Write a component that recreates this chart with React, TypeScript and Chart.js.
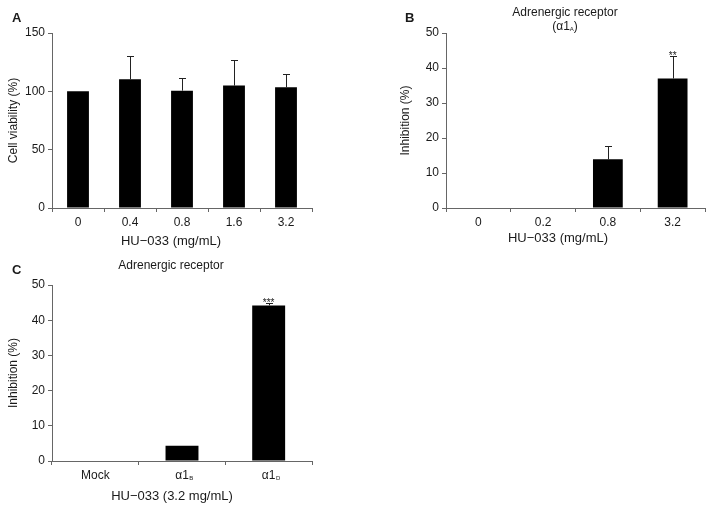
import React, { useEffect, useRef } from "react";
import { Chart, registerables } from "chart.js";
Chart.register(...registerables);

// ---------- Data ----------
const aLabels = ["0", "0.4", "0.8", "1.6", "3.2"];
const aValues = [100, 110.3, 100.6, 104.9, 103.4];
const aErrors = [0, 20.0, 10.9, 22.0, 11.2];
const aMarks = ["", "", "", "", ""];

const bLabels = ["0", "0.2", "0.8", "3.2"];
const bValues = [0, 0, 13.9, 37.0];
const bErrors = [0, 0, 3.8, 6.3];
const bMarks = ["", "", "", "**"];

const cLabels = ["Mock", "α1", "α1"];
const cSubs = ["", "B", "D"];
const cValues = [0, 4.3, 44.2];
const cErrors = [0, 0, 0.8];
const cMarks = ["", "", "***"];

const FONT = "'Liberation Sans', Arial, Helvetica, sans-serif";
const TEXT = "#1a1a1a";
const AXIS = "#666";
const TICK_SIZE = 12;

type Seg = { t: string; size: number; dy?: number };
type TextItem = { segs: Seg[]; x: number; y: number; bold?: boolean; align?: "center" | "left" };

function drawRich(ctx: CanvasRenderingContext2D, item: TextItem) {
  const w = item.segs.reduce((acc, s) => {
    ctx.font = `${item.bold ? "bold " : ""}${s.size}px ${FONT}`;
    return acc + ctx.measureText(s.t).width;
  }, 0);
  let x = item.align === "left" ? item.x : item.x - w / 2;
  ctx.textBaseline = "alphabetic";
  ctx.textAlign = "left";
  ctx.fillStyle = TEXT;
  for (const s of item.segs) {
    ctx.font = `${item.bold ? "bold " : ""}${s.size}px ${FONT}`;
    ctx.fillText(s.t, x, item.y + (s.dy || 0));
    x += ctx.measureText(s.t).width;
  }
}

function makeChart(
  canvas: HTMLCanvasElement,
  cfg: {
    labels: string[];
    values: number[];
    errors: number[];
    marks: string[];
    subs?: string[];
    yMax: number;
    yStep: number;
    yTitle: string;
    barPct: number;
    padding: { left: number; top: number; right: number; bottom: number };
    yWidth: number;
    xHeight: number;
    texts: TextItem[];
  }
) {
  const overlay = {
    id: "overlay",
    afterDatasetsDraw(chart: any) {
      const ctx = chart.ctx as CanvasRenderingContext2D;
      const meta = chart.getDatasetMeta(0);
      const ys = chart.scales.y;
      ctx.save();
      meta.data.forEach((bar: any, i: number) => {
        const err = cfg.errors[i];
        let topY = bar.y;
        if (err > 0) {
          topY = ys.getPixelForValue(cfg.values[i] + err);
          const x = Math.round(bar.x) + 0.5;
          ctx.strokeStyle = "#222";
          ctx.lineWidth = 1;
          ctx.beginPath();
          ctx.moveTo(x, bar.y);
          ctx.lineTo(x, Math.round(topY) + 0.5);
          ctx.moveTo(x - 3.5, Math.round(topY) + 0.5);
          ctx.lineTo(x + 3.5, Math.round(topY) + 0.5);
          ctx.stroke();
        }
        if (cfg.marks[i]) {
          ctx.font = `10px ${FONT}`;
          ctx.fillStyle = TEXT;
          ctx.textAlign = "center";
          ctx.textBaseline = "alphabetic";
          ctx.fillText(cfg.marks[i], bar.x, topY + 3);
        }
      });
      ctx.restore();
    },
    afterDraw(chart: any) {
      const ctx = chart.ctx as CanvasRenderingContext2D;
      ctx.save();
      if (cfg.subs) {
        const xs = chart.scales.x;
        const labelTop = xs.top + 4 + 3;
        cfg.subs.forEach((s, i) => {
          if (!s) return;
          ctx.font = `${TICK_SIZE}px ${FONT}`;
          const w = ctx.measureText(cfg.labels[i]).width;
          const x = xs.getPixelForTick(i) + w / 2 + 0.5;
          ctx.font = `6px ${FONT}`;
          ctx.fillStyle = TEXT;
          ctx.textAlign = "left";
          ctx.textBaseline = "alphabetic";
          ctx.fillText(s, x, labelTop + 12);
        });
      }
      cfg.texts.forEach((t) => drawRich(ctx, t));
      ctx.restore();
    },
  };

  return new Chart(canvas, {
    type: "bar",
    data: {
      labels: cfg.labels,
      datasets: [
        {
          data: cfg.values,
          backgroundColor: "#000",
          borderWidth: 0,
          categoryPercentage: 1,
          barPercentage: cfg.barPct,
        },
      ],
    },
    options: {
      responsive: false,
      animation: false,
      devicePixelRatio: 1,
      layout: { padding: cfg.padding },
      plugins: { legend: { display: false }, tooltip: { enabled: false }, title: { display: false } },
      scales: {
        x: {
          afterFit: (s: any) => {
            s.height = cfg.xHeight;
          },
          grid: { display: true, drawOnChartArea: false, drawTicks: true, tickLength: 4, color: AXIS, offset: true },
          border: { display: true, color: AXIS, width: 1 },
          ticks: { color: TEXT, font: { family: FONT, size: TICK_SIZE }, padding: 3, maxRotation: 0, autoSkip: false },
        },
        y: {
          min: 0,
          max: cfg.yMax,
          afterFit: (s: any) => {
            s.width = cfg.yWidth;
          },
          grid: { display: true, drawOnChartArea: false, drawTicks: true, tickLength: 4, color: AXIS },
          border: { display: true, color: AXIS, width: 1 },
          ticks: { stepSize: cfg.yStep, color: TEXT, font: { family: FONT, size: TICK_SIZE }, padding: 3 },
          title: {
            display: true,
            text: cfg.yTitle,
            color: TEXT,
            font: { family: FONT, size: 12 },
            padding: { top: 6, bottom: 0 },
          },
        },
      },
    },
    plugins: [overlay],
  } as any);
}

export default function App() {
  const aRef = useRef<HTMLCanvasElement>(null);
  const bRef = useRef<HTMLCanvasElement>(null);
  const cRef = useRef<HTMLCanvasElement>(null);

  useEffect(() => {
    const charts: Chart[] = [];
    charts.push(
      makeChart(aRef.current!, {
        labels: aLabels,
        values: aValues,
        errors: aErrors,
        marks: aMarks,
        yMax: 150,
        yStep: 50,
        yTitle: "Cell viability (%)",
        barPct: 0.42,
        padding: { left: 0, top: 33, right: 44, bottom: 0 },
        yWidth: 52,
        xHeight: 42,
        texts: [
          { segs: [{ t: "A", size: 13 }], x: 12, y: 22, bold: true, align: "left" },
          { segs: [{ t: "HU−033 (mg/mL)", size: 13 }], x: 171, y: 245 },
        ],
      })
    );
    charts.push(
      makeChart(bRef.current!, {
        labels: bLabels,
        values: bValues,
        errors: bErrors,
        marks: bMarks,
        yMax: 50,
        yStep: 10,
        yTitle: "Inhibition (%)",
        barPct: 0.46,
        padding: { left: 36, top: 33, right: 8, bottom: 0 },
        yWidth: 54,
        xHeight: 42,
        texts: [
          { segs: [{ t: "B", size: 13 }], x: 49, y: 22, bold: true, align: "left" },
          { segs: [{ t: "Adrenergic receptor", size: 12 }], x: 209, y: 16 },
          {
            segs: [
              { t: "(α1", size: 12 },
              { t: "A", size: 6, dy: 1 },
              { t: ")", size: 12 },
            ],
            x: 209,
            y: 30,
          },
          { segs: [{ t: "HU−033 (mg/mL)", size: 13 }], x: 202, y: 242 },
        ],
      })
    );
    charts.push(
      makeChart(cRef.current!, {
        labels: cLabels,
        values: cValues,
        errors: cErrors,
        marks: cMarks,
        subs: cSubs,
        yMax: 50,
        yStep: 10,
        yTitle: "Inhibition (%)",
        barPct: 0.38,
        padding: { left: 0, top: 35, right: 44, bottom: 0 },
        yWidth: 52,
        xHeight: 46,
        texts: [
          { segs: [{ t: "C", size: 13 }], x: 12, y: 24, bold: true, align: "left" },
          { segs: [{ t: "Adrenergic receptor", size: 12 }], x: 171, y: 19 },
          { segs: [{ t: "HU−033 (3.2 mg/mL)", size: 13 }], x: 172, y: 250 },
        ],
      })
    );
    return () => charts.forEach((c) => c.destroy());
  }, []);

  return (
    <div style={{ position: "absolute", left: 0, top: 0, width: 713, height: 507, background: "#fff" }}>
      <canvas ref={aRef} width={356} height={250} style={{ position: "absolute", left: 0, top: 0 }} />
      <canvas ref={bRef} width={357} height={250} style={{ position: "absolute", left: 356, top: 0 }} />
      <canvas ref={cRef} width={356} height={257} style={{ position: "absolute", left: 0, top: 250 }} />
    </div>
  );
}
